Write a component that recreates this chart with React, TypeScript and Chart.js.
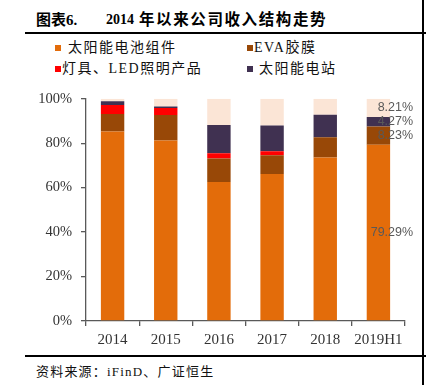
import React, { useEffect, useRef } from "react";
import { Chart, registerables } from "chart.js";

Chart.register(...registerables);

const categories = ["2014", "2015", "2016", "2017", "2018", "2019H1"];
const moduleVals = [85.2, 81.2, 62.5, 66.1, 73.5, 79.29];
const evaVals = [7.9, 11.5, 10.6, 8.5, 9.2, 8.23];
const ledVals = [4.1, 3.1, 2.4, 1.8, 0, 0];
const stationVals = [1.6, 0.7, 12.7, 11.5, 10.1, 4.27];
const otherVals = [1.2, 3.5, 11.8, 12.1, 7.2, 8.21];
const yTicks = [0, 20, 40, 60, 80, 100];
const labelledIndex = 5;

const seriesNames = ["太阳能电池组件", "EVA胶膜", "灯具、LED照明产品", "太阳能电站", "其他"];
const seriesColors = ["#E36C0A", "#984807", "#FF0000", "#403151", "#FBE5D6"];

const serif = '"Liberation Serif", "Noto Sans CJK SC", serif';

const labelPlugin = {
  id: "lastLabels",
  afterDatasetsDraw(chart: any) {
    const ctx = chart.ctx;
    ctx.save();
    ctx.font = '12.5px "Liberation Sans", sans-serif';
    ctx.fillStyle = "#595959";
    ctx.textAlign = "right";
    ctx.textBaseline = "middle";
    chart.data.datasets.forEach((ds: any, di: number) => {
      const v = ds.data[labelledIndex];
      if (!v) return;
      const bar = chart.getDatasetMeta(di).data[labelledIndex] as any;
      const p = bar.getProps(["x", "y", "base", "width"], true);
      const yc = (p.y + p.base) / 2;
      ctx.fillText(v.toFixed(2) + "%", p.x + p.width / 2 + 23, yc);
    });
    ctx.restore();
  },
};

function ChartCanvas() {
  const ref = useRef<HTMLCanvasElement | null>(null);
  useEffect(() => {
    if (!ref.current) return;
    const values = [moduleVals, evaVals, ledVals, stationVals, otherVals];
    const chart = new Chart(ref.current, {
      type: "bar",
      data: {
        labels: categories,
        datasets: values.map((d, i) => ({
          label: seriesNames[i],
          data: d,
          backgroundColor: seriesColors[i],
          borderWidth: 0,
          barPercentage: 0.44,
          categoryPercentage: 1,
        })),
      },
      options: {
        animation: false,
        responsive: false,
        maintainAspectRatio: false,
        layout: { padding: { top: 3, right: 15, left: 0, bottom: 0 } },
        plugins: { legend: { display: false }, tooltip: { enabled: false } },
        scales: {
          x: {
            stacked: true,
            afterFit: (s: any) => {
              s.height = 33;
            },
            grid: {
              display: true,
              drawOnChartArea: false,
              drawTicks: true,
              tickLength: 5,
              color: "#595959",
              lineWidth: 1.3,
              offset: true,
            },
            border: { display: true, color: "#595959", width: 1.3 },
            ticks: {
              color: "#333333",
              font: { family: serif, size: 15 },
              padding: 5,
              maxRotation: 0,
              autoSkip: false,
            },
          },
          y: {
            stacked: true,
            min: 0,
            max: 100,
            afterFit: (s: any) => {
              s.width = 86;
            },
            afterBuildTicks: (s: any) => {
              s.ticks = yTicks.map((v) => ({ value: v }));
            },
            grid: {
              display: true,
              drawOnChartArea: false,
              drawTicks: true,
              tickLength: 5,
              color: "#595959",
              lineWidth: 1.3,
            },
            border: { display: true, color: "#595959", width: 1.3 },
            ticks: {
              color: "#333333",
              font: { family: serif, size: 14.5 },
              padding: 9,
              callback: (v: any) => v + "%",
            },
          },
        },
      },
      plugins: [labelPlugin],
    });
    return () => chart.destroy();
  }, []);
  return (
    <canvas
      ref={ref}
      width={420}
      height={273}
      style={{ position: "absolute", left: 0, top: 81, width: 420, height: 273 }}
    />
  );
}

const abs = (o: any): React.CSSProperties => ({ position: "absolute", whiteSpace: "nowrap", ...o });

export default function App() {
  const legendItems = [
    { name: seriesNames[0], color: seriesColors[0], mx: 55, tx: 68, y: 48 },
    { name: seriesNames[1], color: seriesColors[1], mx: 247, tx: 254, y: 48 },
    { name: seriesNames[2], color: seriesColors[2], mx: 55, tx: 62, y: 69 },
    { name: seriesNames[3], color: seriesColors[3], mx: 247, tx: 259, y: 69 },
  ];
  return (
    <div
      style={{
        position: "absolute",
        left: 0,
        top: 0,
        width: 426,
        height: 385,
        background: "#fff",
        overflow: "hidden",
        fontFamily: serif,
        color: "#000",
      }}
    >
      <ChartCanvas />
      <div style={abs({ left: 36, top: 10, fontSize: 15, fontWeight: "bold", lineHeight: "20px" })}>图表6.</div>
      <div style={abs({ left: 106, top: 10, fontSize: 14, fontWeight: "bold", lineHeight: "20px" })}>2014</div>
      <div
        style={abs({
          left: 139,
          top: 10,
          fontSize: 15.5,
          fontWeight: "bold",
          lineHeight: "20px",
          letterSpacing: 1.6,
        })}
      >
        年以来公司收入结构走势
      </div>
      <div style={abs({ left: 25, top: 31.5, width: 401, height: 2.5, background: "#000" })} />
      <div style={abs({ left: 422, top: 0, width: 1.5, height: 385, background: "#000" })} />
      <div style={abs({ left: 25, top: 354.5, width: 401, height: 2, background: "#000" })} />
      {legendItems.map((it) => (
        <React.Fragment key={it.name}>
          <div style={abs({ left: it.mx, top: it.y - 3, width: 5.5, height: 5.5, background: it.color })} />
          <div
            style={abs({
              left: it.tx,
              top: it.y - 9,
              fontSize: 14,
              lineHeight: "18px",
              letterSpacing: 1.5,
              color: "#111",
            })}
          >
            {it.name}
          </div>
        </React.Fragment>
      ))}
      <div style={abs({ left: 36, top: 363, fontSize: 13, lineHeight: "18px", letterSpacing: 1.2, color: "#111" })}>
        资料来源：iFinD、广证恒生
      </div>
    </div>
  );
}
